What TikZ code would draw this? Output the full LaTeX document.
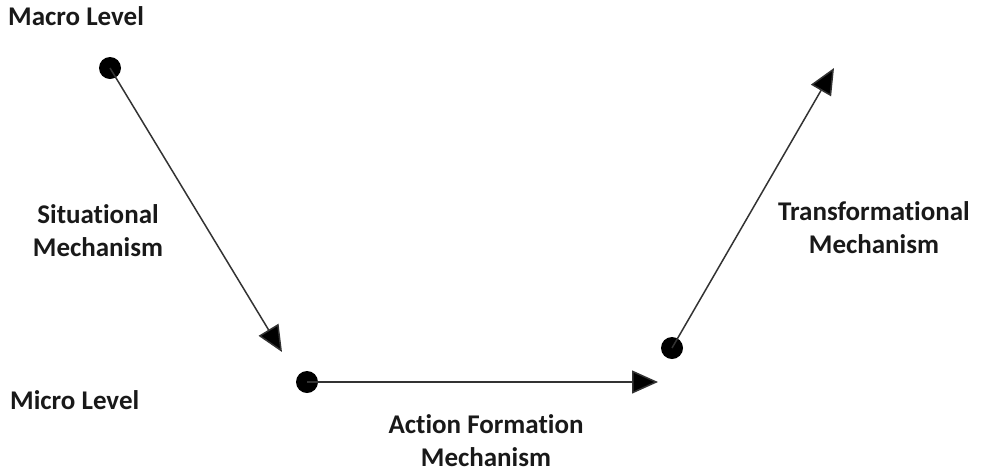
\documentclass[tikz,border=0pt]{standalone}
\usepackage{fontspec}
\setmainfont[Ligatures=NoCommon]{Carlito}
\usetikzlibrary{arrows.meta}
\begin{document}
\begin{tikzpicture}[x=1pt,y=-1pt,
  dot/.style={circle,fill=black,inner sep=0pt,minimum size=22pt},
  label/.style={inner sep=0pt,font=\fontsize{27}{33}\selectfont\bfseries,text=black!90,align=center},
  link/.style={line width=1.5pt,draw=black!80,-{Triangle[length=26pt,width=23pt,fill=black]}}]
  \useasboundingbox (0,0) rectangle (985,475);
  % level labels
  \node[label,anchor=west] (macro) at (8,16) {Macro Level};
  \node[label,anchor=west] (micro) at (10,400) {Micro Level};
  % mechanism labels
  \node[label] (situ) at (98,231) {Situational\\Mechanism};
  \node[label] (trans) at (874,228) {Transformational\\Mechanism};
  \node[label] (action) at (486,441) {Action Formation\\Mechanism};
  % states
  \node[dot] (a) at (110,68) {};
  \node[dot] (b) at (307,382) {};
  \node[dot] (c) at (672,348) {};
  % arrow tips
  \coordinate (ta) at (282,352);
  \coordinate (tb) at (658,382);
  \coordinate (tc) at (834,68);
  % mechanisms
  \draw[link] (a.center) -- (ta);
  \draw[link] (b.center) -- (tb);
  \draw[link] (c.center) -- (tc);
\end{tikzpicture}
\end{document}
